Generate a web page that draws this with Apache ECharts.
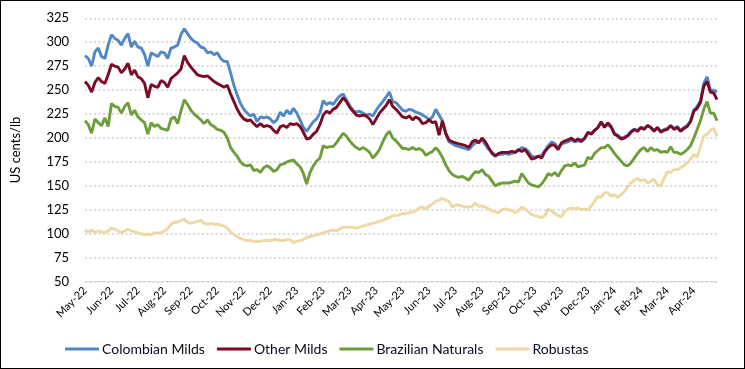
<!DOCTYPE html>
<html><head><meta charset="utf-8">
<script src="https://cdn.jsdelivr.net/npm/echarts@6/dist/echarts.min.js"></script>
<style>html,body{margin:0;padding:0;background:#fff}
#c{width:745px;height:369px;box-sizing:border-box;border:1px solid #000;}
</style></head><body><div id="c"></div>
<script>
const monthLabels = ['May-22','Jun-22','Jul-22','Aug-22','Sep-22','Oct-22','Nov-22','Dec-22','Jan-23','Feb-23','Mar-23','Apr-23','May-23','Jun-23','Jul-23','Aug-23','Sep-23','Oct-23','Nov-23','Dec-23','Jan-24','Feb-24','Mar-24','Apr-24'];
const samplesPerMonth = 8;
const yTicks = {min: 50, max: 325, interval: 25};
const seriesNames = ['Colombian Milds','Other Milds','Brazilian Naturals','Robustas'];

const colombianMilds = [286,283,275,290,294,285,283,297,308,304,302,297,304,309,295,301,295,294,287,275,289,287,285,290,289,283,294,295,297,308,314,309,304,301,299,295,294,289,290,287,289,283,280,280,268,255,245,236,230,
226,223,225,217,222,221,222,220,216,219,227,223,229,225,231,226,219,211,207,212,217,220,226,239,235,237,235,240,244,246,240,234,229,227,228,226,224,225,223,229,234,238,243,248,238,237,233,229,
228,230,229,227,226,224,222,219,222,230,224,218,205,196,194,192,191,190,189,188,192,195,196,198,193,188,185,182,183,183,184,183,184,185,187,190,189,186,181,180,181,182,187,192,196,194,190,194,
195,196,198,196,197,196,199,205,205,208,211,216,212,214,211,205,203,200,201,203,207,209,208,211,210,213,211,208,211,207,209,210,213,210,212,208,211,213,218,229,233,239,257,264,250,250,248];

const otherMilds = [259,255,248,258,263,259,257,266,277,275,274,268,272,278,266,271,264,262,257,242,256,254,253,260,258,253,262,265,268,272,286,279,274,270,266,265,264,265,262,259,257,255,253,255,246,238,230,224,220,
218,219,215,212,215,212,213,212,208,205,212,213,211,215,214,215,212,206,199,200,204,207,214,224,228,226,230,232,237,242,238,232,228,224,223,224,223,220,214,220,226,230,234,240,233,230,226,222,
221,223,219,222,220,215,216,219,216,217,203,218,205,198,196,195,194,193,192,190,196,198,195,200,196,190,184,181,184,185,185,185,186,185,188,186,188,183,178,179,181,179,186,190,193,192,188,195,
197,198,200,197,199,197,200,206,204,208,211,217,211,216,212,204,202,199,200,202,206,209,207,211,209,213,211,207,211,206,208,209,213,209,211,207,210,212,217,228,231,237,254,259,248,247,240];

const brazilianNaturals = [218,214,205,220,216,213,221,212,236,233,232,226,233,237,224,229,222,219,216,204,216,212,214,210,209,208,220,222,215,228,240,235,229,225,222,219,215,219,214,212,209,208,206,200,190,185,181,175,172,
171,172,166,167,164,169,171,169,165,167,172,173,175,176,177,173,170,163,152,164,171,176,179,192,190,191,191,195,200,205,202,197,193,190,188,190,188,185,179,183,188,196,203,207,200,197,193,189,
189,188,190,188,189,187,182,184,186,190,186,180,172,166,162,160,159,160,158,156,161,165,164,167,162,160,155,150,152,153,153,153,154,155,154,163,158,153,151,150,149,152,157,163,161,164,160,166,
171,172,171,174,170,171,172,180,178,184,187,190,190,193,189,184,180,176,172,171,174,179,184,188,190,186,190,187,188,185,186,185,191,185,185,183,185,188,192,200,209,218,230,238,226,226,218];

const robustas = [104,102,104,101,103,102,101,103,106,105,103,101,103,105,103,102,101,100,99,100,99,101,101,101,103,105,110,112,112,114,115,112,111,112,113,114,111,110,111,110,110,109,108,106,102,99,97,95,94,
93,93,92,92,92,93,93,93,94,94,93,93,94,94,91,92,93,94,96,97,98,99,100,101,102,103,104,103,105,107,107,107,107,106,107,108,109,110,111,112,113,114,116,117,119,119,120,121,
121,122,123,124,127,128,126,129,131,134,135,137,135,134,128,130,130,129,128,128,129,132,129,129,128,126,124,123,122,125,126,125,124,122,124,128,126,123,120,119,118,117,119,126,124,121,119,118,
123,126,127,126,127,125,126,125,129,134,139,138,143,143,139,141,138,141,144,149,153,156,158,155,157,153,155,157,151,150,158,165,164,167,167,169,171,174,178,183,180,191,202,204,208,210,202];

const colors = ['#5187C6','#7A0A25','#6E9E3A','#EED8A6'];
const categories = [];
for (let i = 0; i < colombianMilds.length; i++) {
  categories.push(monthLabels[Math.floor(i / samplesPerMonth)] + '|' + (i % samplesPerMonth));
}
const allData = [colombianMilds, otherMilds, brazilianNaturals, robustas];
const font = 'Lato, "Open Sans", sans-serif';
const chart = echarts.init(document.getElementById('c'), null, {renderer: 'canvas'});
chart.setOption({
  animation: false,
  backgroundColor: '#fff',
  textStyle: {fontFamily: font},
  grid: {left: 79, right: 27, top: 17.3, bottom: 86.3, containLabel: false},
  legend: {
    left: 59, top: 336, itemWidth: 34, itemHeight: 10, itemGap: 12,
    icon: 'path://M0,4 L34,4 L34,7 L0,7 Z',
    textStyle: {fontSize: 14, color: '#0a0a1e', fontFamily: font, padding: [0, 0, 0, -2]},
    data: seriesNames
  },
  xAxis: {
    type: 'category', boundaryGap: false, data: categories,
    axisLine: {lineStyle: {color: '#d9d9d9', width: 1}},
    axisTick: {show: false},
    axisLabel: {interval: samplesPerMonth - 1, rotate: 45, margin: 7, fontSize: 11, color: '#000',
      formatter: v => v.split('|')[0]},
    splitLine: {show: false}
  },
  yAxis: {
    type: 'value', min: yTicks.min, max: yTicks.max, interval: yTicks.interval,
    name: 'US cents/lb', nameLocation: 'middle', nameRotate: 90, nameGap: 63,
    nameTextStyle: {fontSize: 13, color: '#000'},
    axisLine: {show: false}, axisTick: {show: false},
    axisLabel: {fontSize: 13, color: '#000', margin: 16},
    splitLine: {lineStyle: {color: '#d0d0d0', width: 1.5, type: [2, 2.5]}}
  },
  series: seriesNames.map((n, k) => ({
    name: n, type: 'line', data: allData[k], symbol: 'none', smooth: false,
    color: colors[k], lineStyle: {width: 2.9, color: colors[k]}
  }))
});
</script></body></html>
